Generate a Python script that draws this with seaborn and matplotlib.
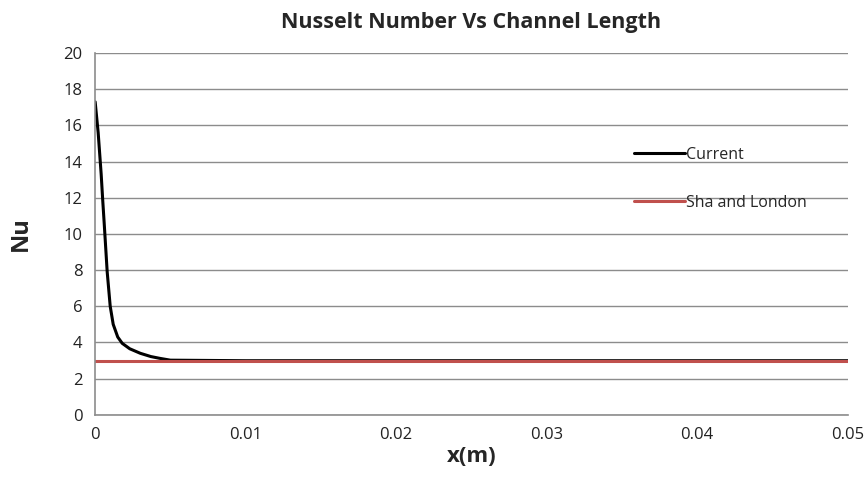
import numpy as np
import pandas as pd
import seaborn as sns
import matplotlib.pyplot as plt

# valores
x_current = [0.0, 0.0002, 0.0004, 0.0005, 0.0006, 0.0008, 0.0010, 0.0012, 0.0015, 0.0018,
             0.0023, 0.0030, 0.0037, 0.0043, 0.0050, 0.0100, 0.0200, 0.0300, 0.0400, 0.0500]
nu_current = [17.3, 15.6, 13.3, 11.9, 10.6, 7.9, 6.0, 5.0, 4.3, 3.95,
              3.65, 3.4, 3.22, 3.12, 3.02, 2.99, 2.99, 2.99, 2.99, 2.99]
x_shah = [0.0, 0.01, 0.02, 0.03, 0.04, 0.05]
nu_shah = [2.98, 2.98, 2.98, 2.98, 2.98, 2.98]

sns.set_style("white")
plt.rcParams['font.family'] = ['Open Sans', 'DejaVu Sans']

df_cur = pd.DataFrame({'x': x_current, 'Nu': nu_current})
df_sha = pd.DataFrame({'x': x_shah, 'Nu': nu_shah})

fig = plt.figure(figsize=(8.65, 4.95), dpi=100)
ax = fig.add_axes([0.110, 0.162, 0.870, 0.731])

sns.lineplot(data=df_cur, x='x', y='Nu', color='black', linewidth=2.2, label='Current', ax=ax)
sns.lineplot(data=df_sha, x='x', y='Nu', color='#c0504d', linewidth=2.2, label='Sha and London', ax=ax)

ax.set_xlim(0, 0.05)
ax.set_ylim(0, 20)
ax.set_xticks([0, 0.01, 0.02, 0.03, 0.04, 0.05])
ax.set_xticklabels(['0', '0.01', '0.02', '0.03', '0.04', '0.05'])
ax.set_yticks(range(0, 21, 2))
ax.tick_params(axis='both', labelsize=12, length=0, pad=9, colors='#222222')

ax.grid(axis='y', color='#8c8c8c', linewidth=1)
ax.set_axisbelow(True)
for lado in ['top', 'right']:
    ax.spines[lado].set_visible(False)
for lado in ['left', 'bottom']:
    ax.spines[lado].set_color('#8c8c8c')
    ax.spines[lado].set_linewidth(1.2)

ax.set_title('Nusselt Number Vs Channel Length', fontsize=15.5, fontweight='bold', pad=18)
ax.set_xlabel('x(m)', fontsize=16, fontweight='bold', labelpad=2)
ax.set_ylabel('Nu', fontsize=17, fontweight='bold', labelpad=22)

ax.legend(frameon=False, fontsize=11.5, loc='upper left',
          bbox_to_anchor=(0.697, 0.78), handlelength=3.2,
          handletextpad=0.05, labelspacing=2.0)

fig.savefig('out.png', dpi=100)
